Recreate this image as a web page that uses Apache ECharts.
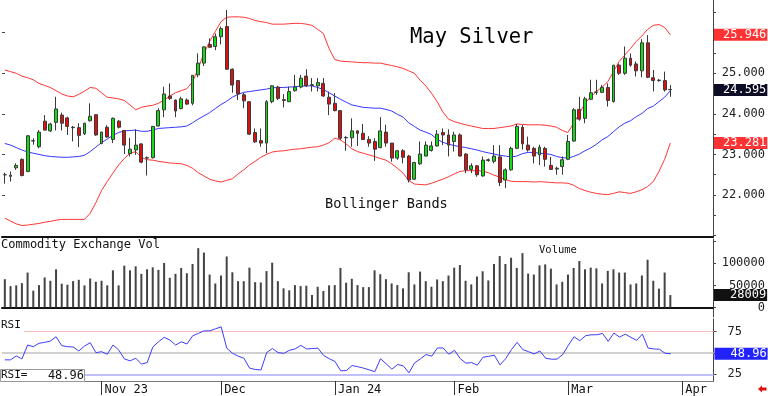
<!DOCTYPE html>
<html><head><meta charset="utf-8">
<script src="https://cdn.jsdelivr.net/npm/echarts@6/dist/echarts.min.js"></script>
<style>html,body{margin:0;padding:0;background:#fff}#c{width:768px;height:396px}</style>
</head><body><div id="c"></div>
<script>
const openP = [22.50,22.46,22.67,22.88,22.58,23.34,23.19,23.82,23.58,23.79,
23.97,23.90,23.67,23.66,23.51,23.83,23.98,23.27,23.67,23.37,
23.82,23.59,23.02,23.11,23.26,22.92,22.92,23.70,24.10,24.44,
24.34,24.13,24.34,24.26,24.96,25.25,25.71,25.66,25.90,26.15,
25.10,24.82,24.47,24.30,23.54,23.34,23.28,24.30,24.66,24.35,
24.30,24.57,24.66,24.93,24.70,24.69,24.75,24.41,24.26,24.08,
23.42,23.41,23.58,23.52,23.37,23.32,23.17,23.55,23.28,22.91,
23.09,22.96,22.39,22.77,22.96,23.10,23.21,23.54,23.48,23.32,
23.48,23.01,22.63,22.72,22.47,22.85,22.83,22.94,22.37,22.62,
23.15,23.67,23.23,23.15,22.99,23.15,22.73,22.64,22.70,22.88,
23.33,24.11,23.89,24.36,24.53,24.53,24.65,24.30,25.20,25.00,
25.37,25.23,25.06,25.75,24.89,24.83,24.82,24.60];
const closeP = [22.50,22.49,22.73,22.48,23.46,23.33,23.55,23.60,23.75,24.12,
23.77,23.69,23.66,23.47,23.77,23.94,23.48,23.55,23.43,23.89,
23.67,23.23,23.13,23.23,22.81,22.91,23.69,24.08,24.49,24.38,
24.07,24.37,24.24,24.95,25.25,25.65,25.64,25.90,26.10,25.10,
24.71,24.49,24.32,23.50,23.31,23.28,24.30,24.69,24.38,24.33,
24.55,24.66,24.88,24.69,24.72,24.77,24.44,24.24,24.08,23.40,
23.41,23.58,23.52,23.37,23.28,23.13,23.58,23.28,22.91,23.09,
22.93,22.37,22.80,23.01,23.23,23.21,23.50,23.48,23.23,23.48,
22.96,22.62,22.72,22.50,22.86,22.87,22.96,22.31,22.62,23.15,
23.69,23.26,23.11,22.96,23.18,22.88,22.63,22.66,22.87,23.32,
24.10,23.87,24.37,24.52,24.54,24.65,24.33,25.20,25.00,25.37,
25.20,25.06,25.75,24.90,24.82,24.82,24.59,24.595];
const lowP = [22.28,22.33,22.62,22.46,22.56,23.24,23.15,23.59,23.55,23.59,
23.59,23.48,23.32,23.18,23.48,23.81,23.46,23.25,23.41,23.28,
23.64,23.01,22.95,22.99,22.78,22.48,22.90,23.69,23.92,24.34,
23.92,24.11,24.22,24.21,24.90,25.18,25.62,25.57,25.71,25.08,
24.52,24.34,24.14,23.48,23.28,23.19,23.03,24.26,24.34,24.16,
24.29,24.55,24.63,24.66,24.55,24.55,24.42,23.97,24.06,23.36,
23.09,23.19,23.21,23.36,23.19,22.84,23.15,23.19,22.82,22.87,
22.78,22.31,22.37,22.74,22.95,23.07,23.19,23.23,22.95,23.07,
22.95,22.54,22.54,22.45,22.45,22.82,22.78,22.22,22.17,22.60,
23.13,23.12,23.07,22.78,22.74,22.70,22.62,22.50,22.50,22.86,
23.31,23.83,23.77,24.34,24.47,24.51,24.18,24.28,24.96,24.96,
25.16,24.92,24.90,24.88,24.55,24.79,24.55,24.42];
const highP = [22.55,22.58,22.78,22.90,23.48,23.40,23.60,23.97,23.78,24.42,
24.03,23.93,23.70,23.77,23.78,24.26,23.98,23.56,23.72,23.91,
23.85,23.60,23.41,23.62,23.27,22.95,23.70,24.14,24.67,24.75,
24.35,24.42,24.38,24.95,25.49,25.66,25.86,25.98,26.15,26.56,
25.12,24.82,24.52,24.30,23.64,23.64,24.34,24.71,24.69,24.49,
24.67,24.96,24.96,25.10,24.88,24.88,24.88,24.55,24.51,24.08,
23.45,23.89,23.60,23.75,23.45,23.40,23.92,23.73,23.28,23.11,
23.13,22.99,22.82,23.32,23.32,23.32,23.60,23.64,23.62,23.56,
23.52,23.03,22.78,22.74,22.95,22.90,23.23,23.23,22.66,23.19,
23.75,23.73,23.44,23.19,23.24,23.19,22.94,22.70,22.95,23.48,
24.14,24.42,24.42,24.84,24.84,24.71,24.75,25.20,25.24,25.66,
25.49,25.29,25.84,25.94,25.08,24.86,25.04,24.71];
const upperBand = [25.08,25.04,25.00,24.93,24.89,24.84,24.75,24.70,24.65,24.57,
24.49,24.44,24.42,24.48,24.56,24.65,24.63,24.52,24.41,24.39,
24.37,24.33,24.22,24.10,24.16,24.19,24.21,24.26,24.34,24.44,
24.52,24.57,24.62,24.79,25.12,25.49,25.78,26.03,26.27,26.38,
26.39,26.39,26.38,26.35,26.30,26.27,26.25,26.21,26.21,26.21,
26.22,26.23,26.23,26.21,26.18,26.08,25.98,25.61,25.34,25.30,
25.29,25.28,25.27,25.26,25.26,25.25,25.25,25.22,25.19,25.16,
25.12,25.06,25.00,24.83,24.69,24.51,24.30,24.05,23.87,23.81,
23.77,23.73,23.70,23.67,23.64,23.64,23.64,23.66,23.68,23.70,
23.75,23.74,23.73,23.73,23.73,23.72,23.70,23.67,23.59,23.54,
23.77,24.01,24.26,24.42,24.55,24.66,24.79,25.04,25.29,25.45,
25.61,25.78,25.92,26.08,26.18,26.20,26.13,25.946];
const midBand = [23.27,23.23,23.17,23.11,23.06,23.03,23.00,22.97,22.95,22.94,
22.93,22.93,22.94,22.95,22.98,23.07,23.18,23.29,23.38,23.47,
23.54,23.58,23.59,23.60,23.57,23.57,23.60,23.64,23.65,23.66,
23.67,23.68,23.70,23.78,23.87,23.95,24.03,24.13,24.23,24.31,
24.41,24.48,24.53,24.55,24.57,24.59,24.61,24.64,24.65,24.65,
24.66,24.67,24.68,24.69,24.69,24.65,24.60,24.52,24.44,24.36,
24.29,24.22,24.19,24.16,24.15,24.14,24.14,24.11,24.07,23.99,
23.92,23.78,23.69,23.60,23.55,23.49,23.37,23.30,23.25,23.22,
23.19,23.17,23.14,23.11,23.07,23.04,23.01,22.98,22.96,22.94,
22.96,23.02,23.05,23.05,23.03,23.02,23.00,22.95,22.92,22.91,
22.95,23.01,23.09,23.16,23.25,23.36,23.44,23.56,23.68,23.77,
23.83,23.93,24.01,24.13,24.19,24.30,24.41,24.57];
const lowerBand = [21.43,21.36,21.29,21.25,21.26,21.28,21.30,21.33,21.35,21.38,
21.40,21.40,21.40,21.40,21.40,21.55,21.81,22.11,22.33,22.54,
22.74,22.90,23.03,23.07,22.93,22.87,22.86,22.83,22.81,22.79,
22.78,22.77,22.73,22.66,22.55,22.47,22.39,22.35,22.32,22.36,
22.40,22.52,22.62,22.74,22.83,22.93,23.00,23.06,23.08,23.09,
23.11,23.13,23.14,23.16,23.18,23.19,23.23,23.29,23.40,23.36,
23.26,23.14,23.07,23.03,22.99,22.95,22.90,22.86,22.77,22.66,
22.54,22.36,22.27,22.26,22.25,22.29,22.34,22.39,22.45,22.52,
22.58,22.60,22.60,22.60,22.59,22.55,22.49,22.44,22.38,22.34,
22.33,22.33,22.33,22.32,22.33,22.32,22.31,22.30,22.30,22.29,
22.24,22.16,22.11,22.07,22.04,22.02,22.01,22.04,22.08,22.06,
22.04,22.08,22.13,22.21,22.33,22.58,22.88,23.281];
const volume = [64000,48400,50000,55100,79100,38100,50600,67900,60500,86500,
53800,51500,59600,62700,50000,65600,58200,60500,50000,84200,
50000,94800,84200,93200,76200,86500,90900,85100,100800,67200,
76200,89600,77500,98600,134400,124500,74600,54400,72400,115600,
79700,59600,59600,90300,57300,56700,82400,101500,59600,43200,
38800,50600,48400,49300,28200,47000,37200,50000,50600,89600,
56000,65000,50600,46100,46100,84200,75300,64100,54400,50600,
43200,79700,52200,81300,59600,47000,63400,59600,72400,90300,
96300,60500,52200,70100,82000,61200,98600,116500,98600,112700,
89600,123200,76800,74600,95400,97700,88000,52200,58200,74600,
89600,105300,86500,90300,88700,54400,82900,86500,79100,79100,
52200,54400,72400,108200,60500,42600,79100,28009];
const rsi = [41.9,41.9,46.5,43.0,59.3,57.3,61.3,62.4,64.0,69.0,
58.5,57.3,57.0,52.3,58.1,62.0,50.3,51.5,48.5,59.3,
53.5,43.0,40.7,43.8,36.9,38.7,57.0,63.1,68.3,65.1,
59.3,63.1,60.5,70.1,72.9,75.9,75.9,78.3,80.6,55.5,
49.6,46.2,43.8,32.2,30.6,30.0,50.4,55.2,50.4,49.5,
53.1,54.7,58.9,54.7,55.1,55.6,47.1,43.2,40.1,29.1,
29.3,35.2,33.9,32.2,30.2,28.0,43.2,37.2,31.0,36.4,
34.9,26.7,38.4,43.0,48.1,46.2,55.8,55.8,48.5,53.1,
43.4,38.0,38.7,35.7,44.9,46.0,47.3,36.0,43.4,53.9,
62.4,53.9,51.5,48.8,52.3,43.8,42.7,42.7,48.1,58.9,
69.0,64.3,70.1,71.3,71.3,72.9,63.6,73.3,68.6,72.1,
68.2,64.7,72.1,55.8,54.7,54.3,49.6,48.96];

const monthTickIdx = [17, 38, 58, 79, 99, 119];
const monthLabels = ['Nov 23', 'Dec', 'Jan 24', 'Feb', 'Mar', 'Apr'];
const slotCount = 125;
const categories = Array.from({length: slotCount}, (_, i) => String(i));
const priceLabels = [22, 23, 24, 25];
const priceTicks = [21, 21.5, 22, 22.5, 23, 23.5, 24, 24.5, 25, 25.5, 26, 26.5];
const volLabels = [0, 50000, 100000];
const volTicks = [0, 50000, 100000, 150000];
const rsiLabels = [25, 75];
const rsiLevels = [75, 50, 25];

const ohlc = openP.map((o, i) => [o, closeP[i], lowP[i], highP[i]]);
const last = a => a[a.length - 1];
const MONO = 'DejaVu Sans Mono';
const HIDDEN_LINE = {color: 'rgba(0,0,0,0)', width: 0, opacity: 1};

function boxLabel(bg, text, padLeft) {
  return {
    show: true, position: 'end', distance: 1,
    formatter: () => text,
    color: '#fff', backgroundColor: bg, opacity: 1,
    padding: [1, 1, 0, padLeft],
    fontFamily: MONO, fontSize: 12, lineHeight: 11
  };
}
function valueMark(value, bg, text, padLeft) {
  return {
    symbol: 'none', silent: true, animation: false,
    lineStyle: HIDDEN_LINE,
    label: boxLabel(bg, text, padLeft),
    data: [{yAxis: value}]
  };
}

const chart = echarts.init(document.getElementById('c'), null, {renderer: 'canvas'});
const gl = 2, gw = 711.5;
const xBase = (gi) => ({
  type: 'category', gridIndex: gi, data: categories, boundaryGap: true,
  axisLine: {show: true, lineStyle: {color: '#111', width: 2}},
  axisTick: {show: false}, axisLabel: {show: false}, splitLine: {show: false}
});

chart.setOption({
  animation: false,
  backgroundColor: '#fff',
  grid: [
    {left: gl, width: gw, top: 0, height: 237},
    {left: gl, width: gw, top: 239, height: 78},
    {left: gl, width: gw, top: 319, height: 62.5}
  ],
  title: [
    {text: 'May Silver', left: 410, top: 27, padding: 0,
     textStyle: {fontFamily: MONO, fontSize: 20.5, fontWeight: 'normal', color: '#000'}},
    {text: 'Bollinger Bands', left: 325, top: 197, padding: 0,
     textStyle: {fontFamily: MONO, fontSize: 13.6, fontWeight: 'normal', color: '#111'}},
    {text: 'Commodity Exchange Vol', left: 1, top: 239, padding: 0,
     textStyle: {fontFamily: MONO, fontSize: 12, fontWeight: 'normal', color: '#111'}},
    {text: 'Volume', left: 539, top: 245, padding: 0,
     textStyle: {fontFamily: MONO, fontSize: 10.5, fontWeight: 'normal', color: '#111'}},
    {text: 'RSI', left: 0, top: 320, padding: [0, 3, 1, 1], backgroundColor: '#fff',
     textStyle: {fontFamily: MONO, fontSize: 11, fontWeight: 'normal', color: '#111'}},
    {text: '{a|RSI=}{b|' + last(rsi).toFixed(2) + '}', left: 0, top: 370,
     padding: [0, 1, 0, 1], backgroundColor: '#fff', borderColor: '#999', borderWidth: 1,
     textStyle: {fontWeight: 'normal', rich: {
       a: {fontFamily: MONO, fontSize: 11, fontWeight: 'normal', color: '#111', width: 48, lineHeight: 11},
       b: {fontFamily: MONO, fontSize: 12, fontWeight: 'normal', color: '#111', width: 35, align: 'right', lineHeight: 11}
     }}}
  ],
  xAxis: [
    xBase(0),
    xBase(1),
    {
      type: 'category', gridIndex: 2, data: categories, boundaryGap: true,
      axisLine: {show: true, lineStyle: {color: '#777', width: 1}},
      axisTick: {show: true, alignWithLabel: true, length: 14,
        interval: (i) => monthTickIdx.includes(i),
        lineStyle: {color: '#333'}},
      axisLabel: {show: true, interval: (i) => monthTickIdx.includes(i),
        formatter: (v, i) => monthLabels[monthTickIdx.indexOf(Number(v))] || '',
        align: 'left', margin: 3, padding: [0, 0, 0, 3],
        fontFamily: MONO, fontSize: 12, color: '#111'},
      splitLine: {show: false}
    }
  ],
  yAxis: [
    {type: 'value', gridIndex: 0, position: 'right', min: 20.966, max: 26.805,
     axisLine: {show: true, lineStyle: {color: '#444'}},
     axisTick: {show: true, customValues: priceTicks, length: 3, lineStyle: {color: '#444'}},
     axisLabel: {show: true, customValues: priceLabels, formatter: v => Number(v).toFixed(3),
       align: 'right', margin: 52, fontFamily: MONO, fontSize: 12, color: '#222'},
     splitLine: {show: false}},
    {type: 'value', gridIndex: 0, position: 'left', min: 20.966, max: 26.805,
     axisLine: {show: false},
     axisTick: {show: true, inside: true, customValues: [22, 23, 24, 25, 26], length: 3, lineStyle: {color: '#444'}},
     axisLabel: {show: false}, splitLine: {show: false}},
    {type: 'value', gridIndex: 1, position: 'right', min: -21700, max: 155200,
     axisLine: {show: true, lineStyle: {color: '#444'}},
     axisTick: {show: true, customValues: volTicks, length: 3, lineStyle: {color: '#444'}},
     axisLabel: {show: true, customValues: volLabels, formatter: v => String(v),
       align: 'right', margin: 52, fontFamily: MONO, fontSize: 12, color: '#222'},
     splitLine: {show: false}},
    {type: 'value', gridIndex: 2, position: 'right', min: 17.1, max: 89.8,
     axisLine: {show: true, lineStyle: {color: '#444'}},
     axisTick: {show: true, customValues: [25, 50, 75], length: 3, lineStyle: {color: '#444'}},
     axisLabel: {show: true, customValues: rsiLabels, formatter: v => String(v),
       align: 'left', margin: 14, fontFamily: MONO, fontSize: 12, color: '#222'},
     splitLine: {show: false}}
  ],
  series: [
    {type: 'line', name: 'upper', xAxisIndex: 0, yAxisIndex: 0, data: upperBand,
     symbol: 'none', lineStyle: {color: '#ff3535', width: 1}, z: 2,
     markLine: valueMark(last(upperBand), '#ff3333', last(upperBand).toFixed(3), 9)},
    {type: 'line', name: 'mid', xAxisIndex: 0, yAxisIndex: 0, data: midBand,
     symbol: 'none', lineStyle: {color: '#3535ff', width: 1}, z: 2},
    {type: 'line', name: 'lower', xAxisIndex: 0, yAxisIndex: 0, data: lowerBand,
     symbol: 'none', lineStyle: {color: '#ff3535', width: 1}, z: 2,
     markLine: valueMark(last(lowerBand), '#ff3333', last(lowerBand).toFixed(3), 9)},
    {type: 'candlestick', name: 'price', xAxisIndex: 0, yAxisIndex: 0, data: ohlc,
     barWidth: 3.4, z: 3,
     itemStyle: {color: '#12dc12', color0: '#dc1010', borderColor: '#3a3a3a', borderColor0: '#3a3a3a', borderWidth: 1},
     markLine: valueMark(last(closeP), '#0c0c24', last(closeP).toFixed(3), 9)},
    {type: 'bar', name: 'volume', xAxisIndex: 1, yAxisIndex: 2, data: volume,
     barWidth: 2, itemStyle: {color: '#444'},
     markLine: valueMark(last(volume), '#111', String(last(volume)), 16)},
    {type: 'line', name: 'rsi', xAxisIndex: 2, yAxisIndex: 3, data: rsi,
     symbol: 'none', lineStyle: {color: '#3c3cff', width: 1}, z: 3,
     markLine: {
       symbol: 'none', silent: true, z: 1,
       label: {show: false},
       data: [
         {yAxis: rsiLevels[0], lineStyle: {color: '#ffbcbc', width: 1, type: 'solid'}},
         {yAxis: rsiLevels[1], lineStyle: {color: '#d0d0d0', width: 2, type: 'solid'}},
         {yAxis: rsiLevels[2], lineStyle: {color: '#c0c0ff', width: 2, type: 'solid'}},
         {yAxis: last(rsi), lineStyle: HIDDEN_LINE, label: boxLabel('#2323ff', last(rsi).toFixed(2), 16)}
       ]
     }}
  ],
  graphic: [
    {type: 'polygon', z: 10,
     shape: {points: [[758, 389], [762, 385.5], [762, 387.5], [766.5, 387.5], [766.5, 390.5], [762, 390.5], [762, 392.5]]},
     style: {fill: '#e01010'}}
  ]
});
</script>
</body></html>
